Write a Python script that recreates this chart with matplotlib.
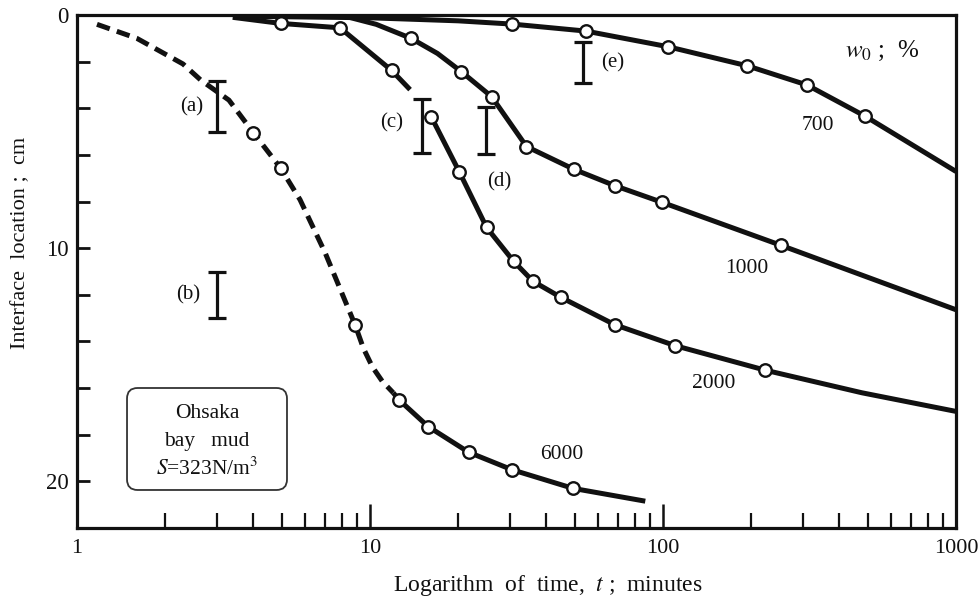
import matplotlib
matplotlib.use("Agg")
import matplotlib.pyplot as plt
from matplotlib.patches import FancyBboxPatch
from matplotlib.ticker import FixedLocator, NullFormatter
import numpy as np

INK = "#111111"

plt.rcParams.update({
    "font.family": ["Liberation Serif", "DejaVu Serif"],
    "mathtext.fontset": "stix",
    "text.color": INK, "axes.edgecolor": INK,
    "xtick.color": INK, "ytick.color": INK,
})

# settling curves, t (min) vs interface location (cm); w0 = 700 %
t_700 = [3.5, 10, 20, 30.6, 54.6, 104, 194, 310, 488, 1000]
y_700 = [0.05, 0.12, 0.25, 0.39, 0.69, 1.36, 2.18, 3.0, 4.33, 6.71]
pt_700 = [30.6, 54.6, 104, 194, 310, 488]
py_700 = [0.39, 0.69, 1.36, 2.18, 3.0, 4.33]

# w0 = 1000 %
t_1000 = [8.5, 10.5, 13.8, 17, 20.5, 26, 34.2, 49.5, 68.5, 99.6, 253, 1000]
y_1000 = [0.1, 0.4, 1.0, 1.65, 2.43, 3.5, 5.64, 6.61, 7.32, 8.04, 9.88, 12.64]
pt_1000 = [13.8, 20.5, 26, 34.2, 49.5, 68.5, 99.6, 253]
py_1000 = [1.0, 2.43, 3.5, 5.64, 6.61, 7.32, 8.04, 9.88]

# w0 = 2000 %, drawn in two pieces around bar (c)
t_2000a = [3.4, 4.95, 7.9, 11.86, 13.7]
y_2000a = [0.1, 0.36, 0.55, 2.38, 3.2]
t_2000b = [16.2, 20.2, 25, 30.9, 36, 44.7, 68.4, 110, 223, 477, 1000]
y_2000b = [4.38, 6.74, 9.11, 10.56, 11.42, 12.1, 13.28, 14.18, 15.23, 16.2, 17.0]
pt_2000 = [4.95, 7.9, 11.86, 16.2, 20.2, 25, 30.9, 36, 44.7, 68.4, 110, 223]
py_2000 = [0.36, 0.55, 2.38, 4.38, 6.74, 9.11, 10.56, 11.42, 12.1, 13.28, 14.18, 15.23]

# w0 = 6000 %, dashed early stage then solid
t_6000d = [1.17, 1.6, 2.3, 2.65, 3.3, 4.0, 4.95, 5.77, 7.03, 8.9, 9.5, 10.2, 11.0, 12.0]
y_6000d = [0.4, 1.0, 2.1, 2.8, 3.65, 5.05, 6.56, 7.92, 10.2, 13.3, 14.3, 15.1, 15.7, 16.2]
t_6000s = [12.0, 12.6, 15.8, 21.7, 30.5, 49.3, 87]
y_6000s = [16.2, 16.52, 17.65, 18.75, 19.5, 20.3, 20.85]
pt_6000 = [4.0, 4.95, 8.9, 12.6, 15.8, 21.7, 30.5, 49.3]
py_6000 = [5.05, 6.56, 13.3, 16.52, 17.65, 18.75, 19.5, 20.3]

# I-bars (a)-(e): time, top and bottom of the bar
bar_names = ["(a)", "(b)", "(c)", "(d)", "(e)"]
bar_t = [3.0, 3.0, 15.0, 24.9, 53.4]
bar_top = [2.83, 11.0, 3.61, 3.93, 1.14]
bar_bot = [5.01, 12.98, 5.92, 5.97, 2.93]

curve_names = ["700", "1000", "2000", "6000"]

fig = plt.figure(figsize=(9.8, 6.03), dpi=100)
ax = fig.add_axes([77 / 980, 75 / 603, 879 / 980, 513 / 603])
ax.set_xscale("log")
ax.set_xlim(1, 1000)
ax.set_ylim(22, 0)

LW = 3.6
line_kw = dict(color=INK, lw=LW, solid_joinstyle="round", solid_capstyle="butt", zorder=2)
for tt, yy in [(t_700, y_700), (t_1000, y_1000), (t_2000a, y_2000a),
               (t_2000b, y_2000b), (t_6000s, y_6000s)]:
    ax.plot(tt, yy, **line_kw)
ax.plot(t_6000d, y_6000d, color=INK, lw=LW, dashes=(2.7, 1.5),
        dash_capstyle="butt", zorder=2)

mk_kw = dict(ls="none", marker="o", ms=9, mfc="white", mec=INK, mew=1.7, zorder=3)
for tt, yy in [(pt_700, py_700), (pt_1000, py_1000), (pt_2000, py_2000), (pt_6000, py_6000)]:
    ax.plot(tt, yy, **mk_kw)

# I-bars and their tags
mid = (np.array(bar_top) + np.array(bar_bot)) / 2
half = (np.array(bar_bot) - np.array(bar_top)) / 2
ax.errorbar(bar_t, mid, yerr=half, fmt="none", ecolor=INK, elinewidth=2.3,
            capsize=6.5, capthick=2.3, zorder=4)
tag_offsets = {  # points from bar midpoint: dx, dy, ha
    "(a)": (-10, 0, "right"),
    "(b)": (-12, 0, "right"),
    "(c)": (-13, 2, "right"),
    "(d)": (1, -37, "left"),
    "(e)": (13, 0, "left"),
}
for name, t, m in zip(bar_names, bar_t, mid):
    dx, dy, ha = tag_offsets[name]
    ax.annotate(name, (t, m), textcoords="offset points", xytext=(dx, dy),
                ha=ha, va="center", fontsize=15)

# curve tags (w0 in %)
tag_pos = [(338, 4.75), (193, 10.85), (149, 15.8), (45, 18.85)]
for name, (x, y) in zip(curve_names, tag_pos):
    ax.text(x, y, name, ha="center", va="center", fontsize=15.5)
ax.text(560, 1.55, r"$w_0$ ;  %", ha="center", va="center", fontsize=18)

# sample box
box = FancyBboxPatch((0.0569, 0.0741), 0.182, 0.1988, transform=ax.transAxes,
                     boxstyle="round,pad=0,rounding_size=0.012",
                     mutation_aspect=879 / 513, fc="white", ec="#333333", lw=1.3, zorder=5)
ax.add_patch(box)
for s, yy in [("Ohsaka", 0.224), ("bay   mud", 0.168), (r"$S$=323N/m$^3$", 0.115)]:
    ax.text(0.1479, yy, s, transform=ax.transAxes, ha="center", va="center",
            fontsize=15.5, zorder=6)

# axes styling
for sp in ax.spines.values():
    sp.set_linewidth(2.3)
ax.set_xticks([1, 10, 100, 1000], labels=["1", "10", "100", "1000"])
ax.xaxis.set_minor_locator(FixedLocator(
    [m * 10 ** k for k in range(3) for m in range(2, 10)]))
ax.xaxis.set_minor_formatter(NullFormatter())
ax.set_yticks([0, 10, 20], labels=["0", "10", "20"])
ax.yaxis.set_minor_locator(FixedLocator([2, 4, 6, 8, 12, 14, 16, 18]))
ax.tick_params(axis="x", which="major", direction="in", length=17, width=1.8,
               labelsize=16, pad=8, top=False)
ax.tick_params(axis="x", which="minor", direction="in", length=11, width=1.6, top=False)
ax.tick_params(axis="y", which="both", direction="in", length=9, width=2.0,
               labelsize=16.5, pad=6, right=False)

fig.text(548 / 980, 18 / 603, r"Logarithm  of  time,  $t$ ;  minutes",
         ha="center", va="center", fontsize=17)
fig.text(21 / 980, 1 - 243 / 603, "Interface  location ;  cm", rotation=90,
         ha="center", va="center", fontsize=16)

fig.savefig("out.png", dpi=100)
